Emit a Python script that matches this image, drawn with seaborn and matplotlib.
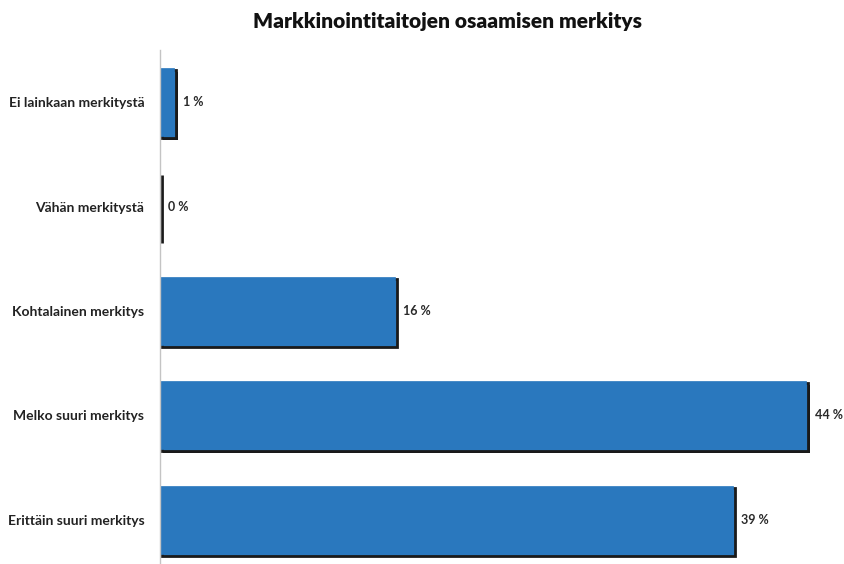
import pandas as pd
import seaborn as sns
import matplotlib.pyplot as plt
import matplotlib.patheffects as pe

categories = ['Ei lainkaan merkitystä', 'Vähän merkitystä', 'Kohtalainen merkitys',
              'Melko suuri merkitys', 'Erittäin suuri merkitys']
values = [1, 0, 16, 44, 39]
title = 'Markkinointitaitojen osaamisen merkitys'

df = pd.DataFrame({'category': categories, 'value': values})

sns.set_style('white')
plt.rcParams['font.family'] = ['Lato', 'DejaVu Sans']

fig = plt.figure(figsize=[8.45, 5.64], dpi=100)
ax = fig.add_axes([0.189, -0.014, 0.80, 0.9255])  # [left, bottom, width, height]

sns.barplot(data=df, y='category', x='value', orient='h', color='#2a78be',
            saturation=1, width=0.65, edgecolor='#2a78be', linewidth=0.5, ax=ax)

# dark drop shadow on right/bottom like the original 3d-ish bars
for p in ax.patches:
    p.set_path_effects([pe.SimplePatchShadow(offset=(2.5, -2.5), shadow_rgbFace='#111111', alpha=1),
                        pe.Stroke(linewidth=2, foreground='#1a1a1a', offset=(1.5, -1.5)),
                        pe.Normal()])

for p, v in zip(ax.patches, values):
    ax.annotate(f'{v} %', (p.get_width(), p.get_y() + p.get_height() / 2),
                xytext=(6, 0), textcoords='offset points',
                fontsize=9, fontweight='bold', color='#2a2a2a', va='center')

ax.set_xlim(0, 46)
ax.set_xticks([])
ax.set_xlabel('')
ax.set_ylabel('')
for b in ['top', 'right', 'bottom']:
    ax.spines[b].set_visible(False)
ax.spines['left'].set_color('#c4c4c4')
ax.spines['left'].set_linewidth(1)
ax.tick_params(axis='y', length=0, pad=11, labelsize=10, labelcolor='#222222')
for t in ax.get_yticklabels():
    t.set_fontweight('bold')

fig.text(0.53, 0.962, title, ha='center', va='center', fontsize=15, fontweight='heavy',
         color='#111111')

plt.savefig('out.png', dpi=100)
plt.close()
